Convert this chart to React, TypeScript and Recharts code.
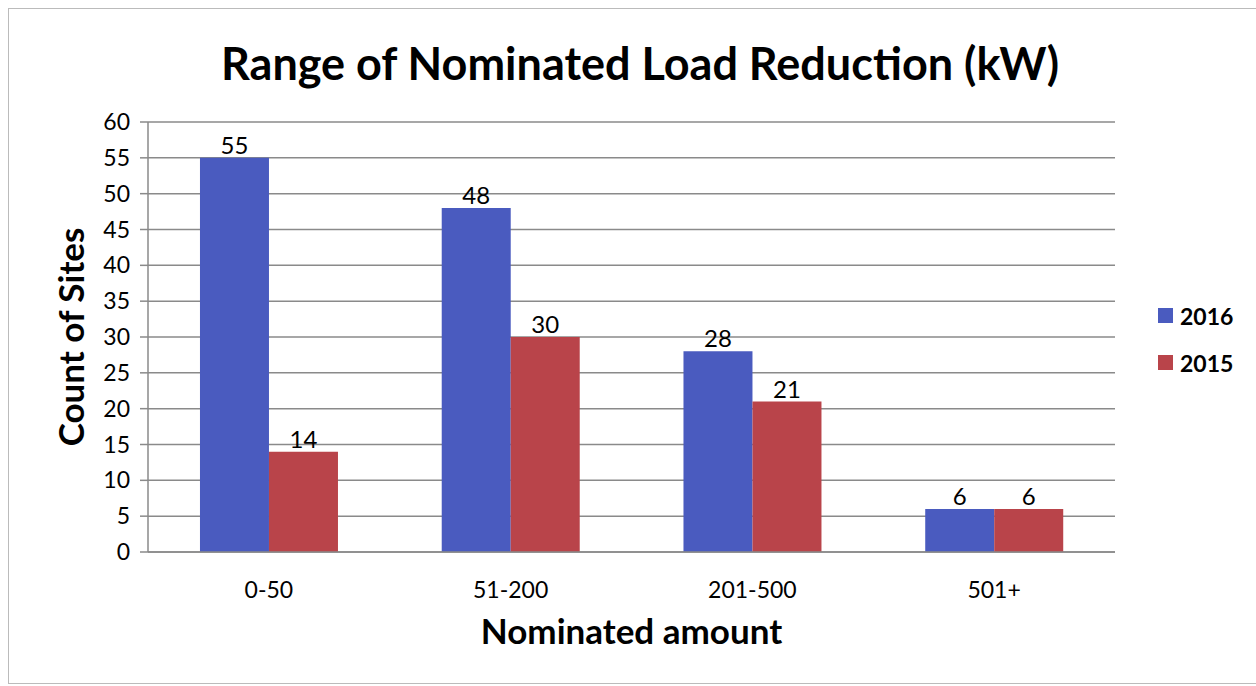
import { BarChart, Bar, XAxis, YAxis, CartesianGrid, LabelList } from 'recharts';

const categories = ['0-50', '51-200', '201-500', '501+'];
const values2016 = [55, 48, 28, 6];
const values2015 = [14, 30, 21, 6];
const yTicks = [0, 5, 10, 15, 20, 25, 30, 35, 40, 45, 50, 55, 60];

const SERIES = [
  { key: 'y2016', name: '2016', color: '#4a5bbf' },
  { key: 'y2015', name: '2015', color: '#b9444a' },
];

const FONT = 'Lato, "Open Sans", sans-serif';

const data = categories.map((c, i) => ({
  name: c,
  y2016: values2016[i],
  y2015: values2015[i],
}));

export default function App() {
  return (
    <div style={{ position: 'relative', width: 1240, height: 676, fontFamily: FONT }}>
      <style>{`body{margin:0;overflow:hidden}#root{padding:8px 0 0 8px}`}</style>
      <div
        style={{
          position: 'absolute',
          inset: 0,
          width: 1248,
          borderLeft: '1px solid #bbb',
          borderTop: '1px solid #bbb',
          borderBottom: '1px solid #bbb',
          boxSizing: 'border-box',
        }}
      />
      <div
        style={{
          position: 'absolute',
          top: 28,
          left: 0,
          width: 1264,
          textAlign: 'center',
          fontSize: 45,
          fontWeight: 700,
          color: '#000',
        }}
      >
        Range of Nominated Load Reduction (kW)
      </div>
      <BarChart
        width={1240}
        height={676}
        data={data}
        margin={{ top: 114, right: 133, left: 0, bottom: 0 }}
        barCategoryGap="21.5%"
        barGap={0}
      >
        <CartesianGrid vertical={false} stroke="#8a8a8a" strokeWidth={1.5} />
        <XAxis
          dataKey="name"
          height={132}
          axisLine={{ stroke: '#8a8a8a', strokeWidth: 1.5 }}
          tickLine={false}
          tickMargin={24}
          tick={{ fill: '#000', fontSize: 23, fontFamily: FONT }}
          label={{
            value: 'Nominated amount',
            position: 'insideBottom',
            offset: 40,
            fill: '#000',
            fontSize: 35,
            fontWeight: 700,
            fontFamily: FONT,
          }}
        />
        <YAxis
          width={140}
          domain={[0, 60]}
          ticks={yTicks}
          interval={0}
          axisLine={{ stroke: '#8a8a8a', strokeWidth: 1.5 }}
          tickLine={{ stroke: '#8a8a8a', strokeWidth: 1.5 }}
          tickSize={8}
          tickMargin={10}
          tick={{ fill: '#000', fontSize: 23, fontFamily: FONT }}
          label={{
            value: 'Count of Sites',
            angle: -90,
            position: 'insideLeft',
            offset: 64,
            fill: '#000',
            fontSize: 35,
            fontWeight: 700,
            fontFamily: FONT,
            style: { textAnchor: 'middle' },
          }}
        />
        {SERIES.map((s) => (
          <Bar key={s.key} dataKey={s.key} name={s.name} fill={s.color} isAnimationActive={false}>
            <LabelList
              dataKey={s.key}
              position="top"
              offset={4}
              fill="#000"
              fontSize={24}
              fontFamily={FONT}
            />
          </Bar>
        ))}
      </BarChart>
      <div style={{ position: 'absolute', left: 1150, top: 284 }}>
        {SERIES.map((s) => (
          <div
            key={s.key}
            style={{ display: 'flex', alignItems: 'center', height: 47, fontSize: 23, fontWeight: 700 }}
          >
            <span style={{ width: 15, height: 15, background: s.color, marginRight: 7 }} />
            {s.name}
          </div>
        ))}
      </div>
    </div>
  );
}
